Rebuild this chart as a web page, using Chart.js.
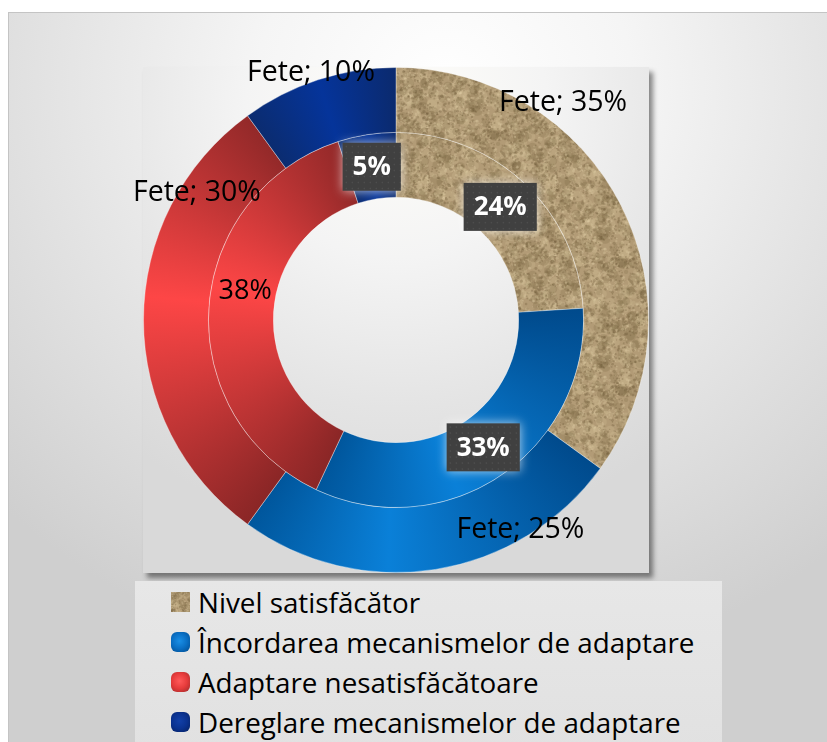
<!DOCTYPE html>
<html><head><meta charset="utf-8">
<script src="https://cdn.jsdelivr.net/npm/chart.js@4.4.1/dist/chart.umd.min.js"></script>
<style>
html,body{margin:0;padding:0;width:827px;height:742px;overflow:hidden;background:#fff;font-family:"Open Sans",sans-serif;}
#frame{position:absolute;left:8px;top:12px;width:840px;height:740px;border:1px solid #c4c4c4;box-sizing:border-box;
 background:radial-gradient(ellipse 75% 80% at 52% 10%, #ffffff 0%, #f5f5f5 30%, #e2e2e2 65%, #cfcfcf 100%);}
#plot{position:absolute;left:143px;top:67px;width:506px;height:506px;
 background:radial-gradient(ellipse 85% 85% at 50% 8%, #fffefa 0%, #f4f4f4 35%, #e4e4e4 70%, #d9d9d9 100%);
 box-shadow:4px 5px 5px rgba(0,0,0,0.45);}
#legend{position:absolute;left:135px;top:581px;width:587px;height:170px;background:linear-gradient(#e7e7e7,#e1e1e1);}
.item{position:absolute;left:0;height:40px;line-height:40px;font-size:27.8px;color:#000;white-space:nowrap;}
.item .txt{position:absolute;left:63px;top:0;}
.item .mk{position:absolute;left:36px;top:10px;width:19px;height:20px;}
#wrap{position:absolute;left:0;top:0;width:827px;height:742px;}
</style></head>
<body>
<div id="frame"></div>
<div id="plot"></div>
<div id="legend"></div>
<div id="wrap"><canvas id="c" width="827" height="742"></canvas></div>
<script>
// ---- data ----
const categories = ["Nivel satisfăcător", "Încordarea mecanismelor de adaptare", "Adaptare nesatisfăcătoare", "Dereglare mecanismelor de adaptare"];
const seriesOuterName = "Fete";
const seriesOuter = [35, 25, 30, 10];
const seriesInnerName = "Seria 2";
const seriesInner = [24, 33, 38, 5];

// ---- style ----
const sandCanvas = (function(){
  const N = 128;
  const c = document.createElement('canvas'); c.width = c.height = N;
  const x = c.getContext('2d');
  x.fillStyle = '#b29b76'; x.fillRect(0,0,N,N);
  let s = 987654;
  const rnd = () => { s = (s * 1103515245 + 12345) & 0x7fffffff; return s / 0x7fffffff; };
  // coarse mottling
  for (let k = 0; k < 500; k++) {
    const px = rnd()*N, py = rnd()*N, r = 2 + rnd()*4, v = rnd();
    x.fillStyle = v < 0.5 ? 'rgba(120,98,65,0.22)' : 'rgba(212,194,156,0.22)';
    for (let ox = -N; ox <= N; ox += N) for (let oy = -N; oy <= N; oy += N) {
      x.beginPath(); x.arc(px+ox, py+oy, r, 0, Math.PI*2); x.fill();
    }
  }
  // fine grains
  for (let k = 0; k < 1800; k++) {
    const px = rnd()*N, py = rnd()*N, r = 0.5 + rnd()*1.1, v = rnd();
    x.fillStyle = v < 0.55 ? 'rgba(110,88,55,0.30)' : 'rgba(225,208,170,0.28)';
    x.beginPath(); x.arc(px, py, r, 0, Math.PI*2); x.fill();
  }
  return c;
})();

const STOPS = [
  null,
  [[0,'#004a8c'],[0.62,'#0a80d8'],[1,'#00569c']],
  [[0,'#8a2626'],[0.55,'#fd4646'],[1,'#932929']],
  [[0,'#0b2c70'],[0.5,'#05349a'],[1,'#0b2a6e']]
];

function sliceFill(context){
  const chart = context.chart, i = context.dataIndex, di = context.datasetIndex;
  const ctx = chart.ctx;
  if (i === 0) return ctx.createPattern(sandCanvas, 'repeat');
  const area = chart.chartArea;
  const base = STOPS[i][1][1];
  if (!area || !ctx.createConicGradient) return base;
  const cx = (area.left + area.right)/2, cy = (area.top + area.bottom)/2;
  const vals = chart.data.datasets[di].data;
  const total = vals.reduce((a,b)=>a+b,0);
  let cum = 0; for (let k = 0; k < i; k++) cum += vals[k];
  const a0 = -Math.PI/2 + 2*Math.PI*cum/total;
  const span = vals[i]/total;
  const g = ctx.createConicGradient(a0, cx, cy);
  STOPS[i].forEach(([t,c]) => g.addColorStop(Math.min(t*span, 1), c));
  if (span < 1) g.addColorStop(Math.min(span + 0.001, 1), STOPS[i][STOPS[i].length-1][1]);
  return g;
}

// label placement nudges (relative to slice centroid)
const labelNudge = [
  [[-29,-117],[90,-7],[21,-127],[-17,-38]],
  [[-2,0],[0,-1],[4,-19],[0,0]]
];
const innerBoxed = [true, true, false, true];

const labelPlugin = {
  id: 'sliceLabels',
  afterDatasetsDraw(chart){
    const ctx = chart.ctx;
    chart.data.datasets.forEach((ds, di) => {
      const meta = chart.getDatasetMeta(di);
      meta.data.forEach((arc, i) => {
        const p = arc.getProps(['x','y','startAngle','endAngle','innerRadius','outerRadius'], true);
        const mid = (p.startAngle + p.endAngle)/2, r = (p.innerRadius + p.outerRadius)/2;
        const n = labelNudge[di][i];
        const x = p.x + Math.cos(mid)*r + n[0], y = p.y + Math.sin(mid)*r + n[1];
        ctx.save();
        ctx.textAlign = 'center'; ctx.textBaseline = 'middle';
        if (di === 0) {
          ctx.font = '28.5px "Open Sans", sans-serif';
          ctx.fillStyle = '#000';
          ctx.fillText(ds.label + '; ' + ds.data[i] + '%', x, y);
        } else {
          const t = ds.data[i] + '%';
          if (innerBoxed[i]) {
            ctx.font = 'bold 26px "Open Sans", sans-serif';
            const w = ctx.measureText(t).width + 20, h = 48;
            ctx.shadowColor = 'rgba(255,255,255,0.7)'; ctx.shadowBlur = 10;
            ctx.fillStyle = '#404040';
            ctx.fillRect(x - w/2, y - h/2, w, h);
            ctx.shadowBlur = 0; ctx.shadowColor = 'transparent';
            ctx.fillStyle = 'rgba(255,255,255,0.07)';
            for (let yy = y - h/2 + 3; yy < y + h/2; yy += 6)
              for (let xx = x - w/2 + 3; xx < x + w/2; xx += 6) ctx.fillRect(xx, yy, 1.5, 1.5);
            ctx.fillStyle = '#fff';
            ctx.fillText(t, x, y + 1);
          } else {
            ctx.font = '27px "Open Sans", sans-serif';
            ctx.fillStyle = '#000';
            ctx.fillText(t, x, y);
          }
        }
        ctx.restore();
      });
    });
  }
};

new Chart(document.getElementById('c'), {
  type: 'doughnut',
  data: {
    labels: categories,
    datasets: [
      { label: seriesOuterName, data: seriesOuter, backgroundColor: sliceFill, borderColor: 'rgba(255,255,255,0.35)', borderWidth: 1 },
      { label: seriesInnerName, data: seriesInner, backgroundColor: sliceFill, borderColor: 'rgba(255,255,255,0.35)', borderWidth: 1 }
    ]
  },
  options: {
    responsive: false,
    animation: false,
    cutout: '48.6%',
    layout: { padding: { left: 143, top: 67, right: 178, bottom: 169 } },
    plugins: { legend: { display: false }, tooltip: { enabled: false } }
  },
  plugins: [labelPlugin]
});

// ---- legend (HTML) ----
const markerStyles = [
  'background-image:url(' + sandCanvas.toDataURL() + ');background-size:64px 64px;',
  'border-radius:6px;background:radial-gradient(circle at 45% 45%, #1a8fe6 0%, #0a6fc4 50%, #004a8c 100%);',
  'border-radius:6px;background:radial-gradient(circle at 45% 45%, #ff5a5a 0%, #e63b3b 50%, #9a2a2a 100%);',
  'border-radius:6px;background:radial-gradient(circle at 45% 45%, #1240a8 0%, #0a3290 50%, #06205e 100%);'
];
const rowTops = [1, 41, 81, 121];
const leg = document.getElementById('legend');
categories.forEach((c, i) => {
  const d = document.createElement('div');
  d.className = 'item'; d.style.top = rowTops[i] + 'px';
  d.innerHTML = '<span class="mk" style="' + markerStyles[i] + '"></span><span class="txt"></span>';
  d.querySelector('.txt').textContent = c;
  leg.appendChild(d);
});
</script>
</body></html>
